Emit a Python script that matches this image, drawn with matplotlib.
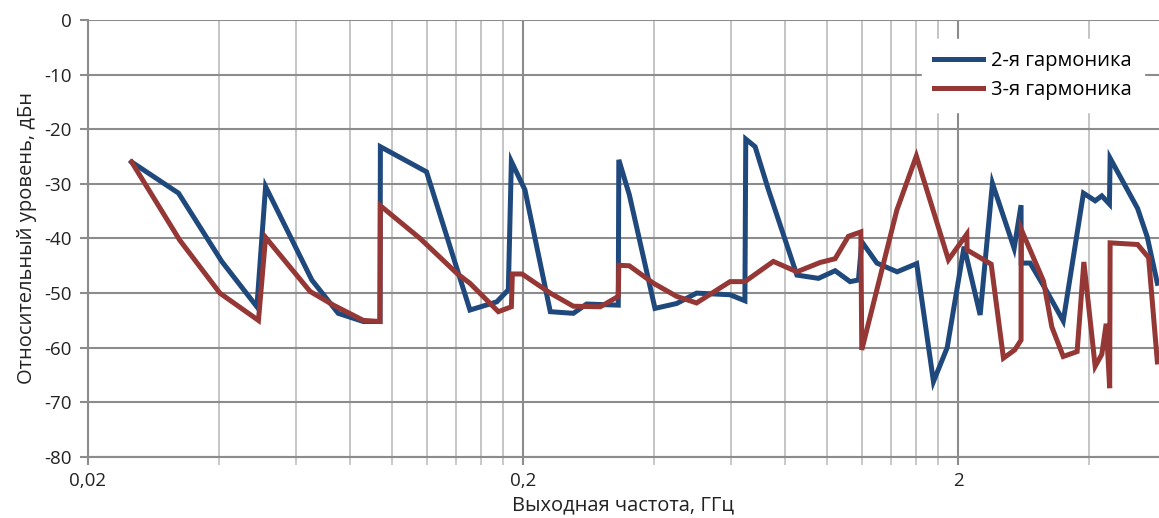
import matplotlib
matplotlib.use('Agg')
import matplotlib.pyplot as plt
from matplotlib.ticker import FixedLocator, NullFormatter

plt.rcParams['font.family'] = ['Open Sans', 'DejaVu Sans']

# 2nd harmonic, (frequency GHz, level dBc)
h2_freq = [0.0252, 0.0323, 0.0406, 0.0489, 0.0512, 0.0654, 0.0752, 0.0859, 0.0938, 0.0940,
           0.120, 0.151, 0.174, 0.185, 0.188, 0.202, 0.231, 0.261, 0.280, 0.331,
           0.332, 0.351, 0.402, 0.451, 0.501, 0.598, 0.647, 0.650, 0.683, 0.733,
           0.852, 0.955, 1.043, 1.129, 1.180, 1.201, 1.301, 1.448, 1.606, 1.755,
           1.887, 2.064, 2.247, 2.398, 2.690, 2.790, 2.792, 2.928, 3.188, 3.488,
           3.882, 4.13, 4.278, 4.454, 4.47, 5.17, 5.44, 5.74]
h2_level = [-26.0, -31.7, -44.2, -52.5, -30.5, -47.6, -53.7, -55.2, -55.2, -23.2,
            -27.8, -53.1, -51.6, -49.4, -25.9, -31.1, -53.4, -53.7, -52.0, -52.2,
            -25.6, -32.0, -52.8, -51.9, -50.0, -50.3, -51.4, -21.8, -23.2, -31.1,
            -46.7, -47.3, -45.9, -47.9, -47.6, -40.6, -44.5, -46.1, -44.6, -66.2,
            -60.0, -41.5, -54.0, -29.9, -41.8, -33.9, -44.5, -44.5, -49.5, -55.1,
            -31.7, -33.1, -32.2, -33.7, -25.3, -34.5, -39.7, -48.2]

# 3rd harmonic
h3_freq = [0.0252, 0.0325, 0.0402, 0.0493, 0.0512, 0.0648, 0.0733, 0.0859, 0.0938, 0.0940,
           0.116, 0.141, 0.151, 0.1755, 0.188, 0.189, 0.199, 0.231, 0.261, 0.301,
           0.331, 0.332, 0.351, 0.399, 0.451, 0.501, 0.598, 0.647, 0.752, 0.852,
           0.963, 1.043, 1.119, 1.195, 1.201, 1.446, 1.603, 1.900, 2.094, 2.097,
           2.382, 2.542, 2.698, 2.790, 2.792, 3.142, 3.284, 3.488, 3.754, 3.89,
           4.13, 4.278, 4.378, 4.46, 4.47, 5.17, 5.48, 5.74]
h3_level = [-26.0, -40.3, -50.0, -55.0, -39.8, -49.7, -52.2, -55.0, -55.2, -34.0,
            -40.0, -46.4, -48.2, -53.4, -52.5, -46.5, -46.5, -50.0, -52.4, -52.5,
            -50.6, -44.9, -45.0, -48.2, -50.6, -51.8, -47.9, -47.9, -44.2, -46.1,
            -44.4, -43.7, -39.6, -38.8, -60.4, -34.8, -24.9, -43.9, -39.2, -42.1,
            -44.7, -61.9, -60.4, -58.6, -38.3, -47.8, -56.2, -61.6, -60.7, -44.3,
            -63.4, -61.2, -55.6, -67.4, -40.8, -41.1, -43.5, -62.6]

major_x = [0.02, 0.2, 2]
major_labels = ['0,02', '0,2', '2']
minor_x = [0.04, 0.06, 0.08, 0.1, 0.12, 0.14, 0.16, 0.18,
           0.4, 0.6, 0.8, 1.0, 1.2, 1.4, 1.6, 1.8, 4, 6]
y_ticks = [0, -10, -20, -30, -40, -50, -60, -70, -80]

fig = plt.figure(figsize=(11.59, 5.18), dpi=100)
ax = fig.add_axes([0.0759, 0.1178, 0.9241, 0.8436])

ax.set_xscale('log')
ax.set_xlim(0.02, 5.79)
ax.set_ylim(-80, 0)

ax.xaxis.set_major_locator(FixedLocator(major_x))
ax.xaxis.set_minor_locator(FixedLocator(minor_x))
ax.set_xticklabels(major_labels)
ax.xaxis.set_minor_formatter(NullFormatter())
ax.set_yticks(y_ticks)
ax.set_yticklabels([str(v) for v in y_ticks])

ax.grid(True, which='minor', axis='x', color='#c0c0c0', linewidth=1.3)
ax.grid(True, which='major', axis='x', color='#8c8c8c', linewidth=1.5)
ax.grid(True, which='major', axis='y', color='#8c8c8c', linewidth=1.5)
ax.set_axisbelow(True)

ax.plot(h2_freq, h2_level, color='#1f497d', linewidth=3.6, label='2-я гармоника',
        solid_joinstyle='miter', zorder=3)
ax.plot(h3_freq, h3_level, color='#953735', linewidth=3.6, label='3-я гармоника',
        solid_joinstyle='miter', zorder=3)

for side in ['top', 'right']:
    ax.spines[side].set_visible(False)
ax.spines['left'].set_color('#8c8c8c')
ax.spines['left'].set_linewidth(1.5)
ax.spines['bottom'].set_color('#8c8c8c')
ax.spines['bottom'].set_linewidth(1.5)

ax.tick_params(axis='both', which='major', length=6, width=1.5, color='#8c8c8c',
               labelsize=13.5, labelcolor='#222222')
ax.tick_params(axis='y', which='major', pad=6)
ax.tick_params(axis='x', which='minor', length=6, width=1.2, color='#c0c0c0')
ax.tick_params(axis='x', which='major', pad=5)

ax.set_xlabel('Выходная частота, ГГц', fontsize=14.5, color='#222222', labelpad=4)
ax.set_ylabel('Относительный уровень, дБн', fontsize=14.5, color='#222222', labelpad=5)

leg = ax.legend(loc='upper right', bbox_to_anchor=(0.995, 0.98), frameon=True,
                fontsize=14.5, handlelength=2.4, handletextpad=0.4, borderpad=0.6,
                labelspacing=0.45, fancybox=False)
leg.get_frame().set_facecolor('white')
leg.get_frame().set_edgecolor('white')
leg.get_frame().set_alpha(1.0)

fig.savefig('out.png', dpi=100)
